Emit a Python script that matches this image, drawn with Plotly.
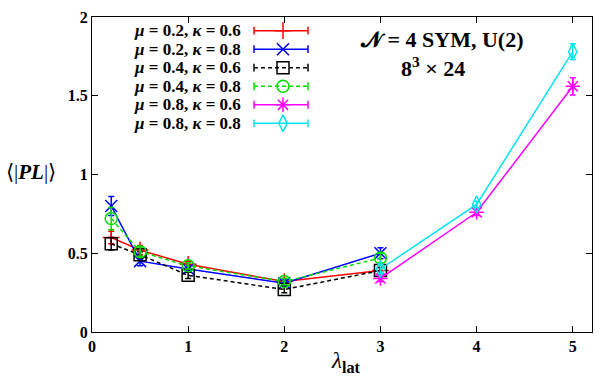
import plotly.graph_objects as go

# ---- data ----
x_low = [0.2, 0.5, 1, 2, 3]
x_high = [3, 4, 5]

red_y = [0.60, 0.52, 0.43, 0.32, 0.39]
red_e = [0.04, 0.03, 0.02, 0.02, 0.02]
blue_y = [0.80, 0.45, 0.40, 0.31, 0.50]
blue_e = [0.06, 0.03, 0.02, 0.02, 0.035]
black_y = [0.56, 0.49, 0.36, 0.27, 0.39]
black_e = [0.04, 0.02, 0.02, 0.02, 0.02]
green_y = [0.72, 0.51, 0.42, 0.32, 0.47]
green_e = [0.07, 0.03, 0.02, 0.02, 0.03]
mag_y = [0.34, 0.76, 1.56]
mag_e = [0.02, 0.02, 0.055]
cyan_y = [0.40, 0.81, 1.78]
cyan_e = [0.03, 0.02, 0.05]

labels = ["<i>μ</i> = 0.2, <i>κ</i> = 0.6", "<i>μ</i> = 0.2, <i>κ</i> = 0.8",
          "<i>μ</i> = 0.4, <i>κ</i> = 0.6", "<i>μ</i> = 0.4, <i>κ</i> = 0.8",
          "<i>μ</i> = 0.8, <i>κ</i> = 0.6", "<i>μ</i> = 0.8, <i>κ</i> = 0.8"]
x_ticks = [0, 1, 2, 3, 4, 5]
y_ticks = [0, 0.5, 1, 1.5, 2]
y_ticktext = ["0", "0.5", "1", "1.5", "2"]

DASH = "4px,3px"
series = [
    (x_low, red_y, red_e, "#ff0000", "solid", "cross-thin-open"),
    (x_low, blue_y, blue_e, "#0000ff", "solid", "x-thin-open"),
    (x_low, black_y, black_e, "#000000", DASH, "square-open"),
    (x_low, green_y, green_e, "#00e000", DASH, "circle-open"),
    (x_high, mag_y, mag_e, "#ff00ff", "solid", "asterisk-open"),
    (x_high, cyan_y, cyan_e, "#00e5ee", "solid", "diamond-tall-open"),
]

FONT = "Liberation Serif"
W, H = 604, 382
L, R, T, B = 92, 12, 9, 50
pw, ph = W - L - R, H - T - B


def px(xp):
    return (xp - L) / pw


def py(yp):
    return 1 - (yp - T) / ph


fig = go.Figure()

for xs, ys, es, col, dash, sym in series:
    fig.add_trace(go.Scatter(
        x=xs, y=ys, mode="lines+markers",
        line=dict(color=col, width=1.5, dash=dash),
        marker=dict(symbol=sym, size=12, color=col, line=dict(color=col, width=1.5)),
        error_y=dict(type="data", array=es, color=col, thickness=1.5, width=3),
        showlegend=False))

# ---- custom legend (symbol on right, gnuplot style) on pixel-unit overlay axes ----
row_y = [309, 290, 271, 252, 233, 214]
for (xs, ys, es, col, dash, sym), lab, ry in zip(series, labels, row_y):
    fig.add_trace(go.Scatter(
        x=[162, 216], y=[ry, ry], mode="lines", xaxis="x2", yaxis="y2",
        line=dict(color=col, width=1.5, dash=dash),
        error_y=dict(type="constant", value=4, color=col, thickness=1.5, width=0),
        showlegend=False, hoverinfo="skip"))
    fig.add_trace(go.Scatter(
        x=[191], y=[ry], mode="markers", xaxis="x2", yaxis="y2",
        marker=dict(symbol=sym, size=12, color=col, line=dict(color=col, width=1.5)),
        showlegend=False, hoverinfo="skip"))
    fig.add_annotation(x=151, y=ry, xref="x2", yref="y2", text="<b>" + lab + "</b>",
                       showarrow=False, xanchor="right", yanchor="middle",
                       font=dict(family=FONT, size=17, color="black"))

fig.add_annotation(x=px(441), y=py(32), xref="paper", yref="paper",
                   xanchor="center", yanchor="middle",
                   text="<b>𝒩 = 4 SYM, U(2)</b>", showarrow=False,
                   font=dict(family=FONT, size=22, color="black"))
fig.add_annotation(x=px(433), y=py(60), xref="paper", yref="paper",
                   xanchor="center", yanchor="middle",
                   text="<b>8<sup>3</sup> × 24</b>", showarrow=False,
                   font=dict(family=FONT, size=22, color="black"))
# axis titles (horizontal, gnuplot style)
fig.add_annotation(x=px(31), y=py(168), xref="paper", yref="paper",
                   xanchor="center", yanchor="middle",
                   text="⟨|<b><i>PL</i></b>|⟩", showarrow=False,
                   font=dict(family=FONT, size=21, color="black"))
fig.add_annotation(x=px(345), y=py(363), xref="paper", yref="paper",
                   xanchor="center", yanchor="middle",
                   text="<i>λ</i><sub><b>lat</b></sub>", showarrow=False,
                   font=dict(family=FONT, size=23, color="black"))

axis_common = dict(showline=True, linecolor="black", linewidth=1, mirror="allticks",
                   ticks="inside", ticklen=6, tickcolor="black", showgrid=False,
                   zeroline=False,
                   tickfont=dict(family=FONT, size=16, color="black", weight="bold"))

fig.update_layout(
    width=W, height=H,
    margin=dict(l=L, r=R, t=T, b=B),
    plot_bgcolor="white", paper_bgcolor="white",
    xaxis=dict(range=[0, 5.2], tickvals=x_ticks, **axis_common),
    yaxis=dict(range=[0, 2], tickvals=y_ticks, ticktext=y_ticktext, **axis_common),
    xaxis2=dict(range=[0, pw], overlaying="x", visible=False, fixedrange=True),
    yaxis2=dict(range=[0, ph], overlaying="y", visible=False, fixedrange=True),
    showlegend=False,
)

fig.write_html("out.html", config={"displayModeBar": False},
               post_script="document.body.style.margin='0';")
